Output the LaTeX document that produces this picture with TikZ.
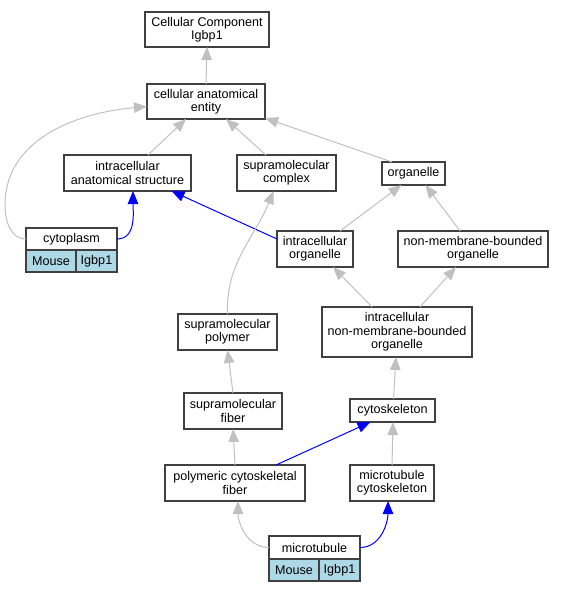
\documentclass[tikz,border=0pt]{standalone}
\usepackage{fontspec}
\setmainfont{Liberation Sans}
\usetikzlibrary{arrows.meta,calc}
\definecolor{isagray}{RGB}{192,192,192}
\definecolor{taxblue}{RGB}{173,216,230}
\tikzset{
  term/.style={draw=black!75,line width=1.1pt,fill=white,align=center,inner sep=0pt,outer sep=0pt,
    font=\fontsize{12.6}{13.3}\selectfont},
  taxcell/.style={term,fill=taxblue,minimum height=22pt,anchor=north west},
  isa/.style={draw=isagray,line width=1pt,-{Triangle[length=13pt,width=10.5pt]}},
  partof/.style={draw=blue,line width=1pt,-{Triangle[length=13pt,width=10.5pt]}}
}
\begin{document}
\begin{tikzpicture}[x=1pt,y=-1pt]
    \useasboundingbox (0,0) rectangle (564,592);
    \node[term,minimum width=124pt,minimum height=35pt] (cc) at (207,29.5) {Cellular Component\\Igbp1};
    \node[term,minimum width=118pt,minimum height=35pt] (cae) at (206,101.5) {cellular anatomical\\entity};
    \node[term,minimum width=127pt,minimum height=36pt] (ias) at (127.5,173) {intracellular\\anatomical structure};
    \node[term,minimum width=99pt,minimum height=36pt] (smc) at (286.5,173) {supramolecular\\complex};
    \node[term,minimum width=63pt,minimum height=23pt] (org) at (413.5,173.5) {organelle};
    \node[term,minimum width=91pt,minimum height=22pt] (cyto) at (71.5,239) {cytoplasm};
    \node[taxcell,minimum width=50pt] (cytomouse) at (cyto.south west) {Mouse};
    \node[taxcell,minimum width=41pt] (cytoigbp) at (cytomouse.north east) {Igbp1};
    \node[term,minimum width=76pt,minimum height=36pt] (iorg) at (315,249) {intracellular\\organelle};
    \node[term,minimum width=150pt,minimum height=36pt] (nmbo) at (473,249) {non-membrane-bounded\\organelle};
    \node[term,minimum width=99pt,minimum height=36pt] (smp) at (227.5,332) {supramolecular\\polymer};
    \node[term,minimum width=150pt,minimum height=50pt] (inmbo) at (397,332) {intracellular\\non-membrane-bounded\\organelle};
    \node[term,minimum width=98pt,minimum height=36pt] (smf) at (233,411) {supramolecular\\fiber};
    \node[term,minimum width=85pt,minimum height=23pt] (csk) at (392.5,410.5) {cytoskeleton};
    \node[term,minimum width=140pt,minimum height=36pt] (pcf) at (235,483) {polymeric cytoskeletal\\fiber};
    \node[term,minimum width=84pt,minimum height=36pt] (mtc) at (392,483) {microtubule\\cytoskeleton};
    \node[term,minimum width=91pt,minimum height=23pt] (mt) at (314.5,547.5) {microtubule};
    \node[taxcell,minimum width=50pt] (mtmouse) at (mt.south west) {Mouse};
    \node[taxcell,minimum width=41pt] (mtigbp) at (mtmouse.north east) {Igbp1};
    \draw[isa] (cae.north) -- (cc.south);
    \draw[isa] ($(ias.north)+(20.5,0)$) -- ($(cae.south)+(-20,0)$);
    \draw[isa] ($(smc.north)+(-20.5,0)$) -- ($(cae.south)+(20,0)$);
    \draw[isa] ($(org.north)+(-21.5,0)$) -- ($(cae.south east)+(0,-1)$);
    \draw[isa] (cyto.west) to[out=180,in=270] (5,205) to[out=90,in=185] ($(cae.west)+(0,5)$);
    \draw[partof] (cyto.east) to[out=0,in=270] ($(ias.south)+(5.5,0)$);
    \draw[partof] ($(iorg.west)+(0,-10)$) -- ($(ias.south)+(44,0)$);
    \draw[isa] ($(iorg.north)+(25,0)$) -- ($(org.south)+(-12,0)$);
    \draw[isa] ($(nmbo.north)+(-13,0)$) -- ($(org.south)+(12,0)$);
    \draw[isa] ($(inmbo.north)+(-25,0)$) -- ($(iorg.south)+(18,0)$);
    \draw[isa] ($(inmbo.north)+(23,0)$) -- ($(nmbo.south)+(-17,0)$);
    \draw[isa] (smp.north) to[out=92,in=-112] ($(smc.south)+(-13,0)$);
    \draw[isa] (smf.north) -- (smp.south);
    \draw[isa] ($(csk.north)+(1,0)$) -- ($(inmbo.south)+(-1,0)$);
    \draw[isa] (pcf.north) -- (smf.south);
    \draw[partof] ($(pcf.north)+(41,0)$) -- ($(csk.south)+(-22,0)$);
    \draw[isa] (mtc.north) -- ($(csk.south)+(0.5,0)$);
    \draw[isa] (mt.west) to[out=180,in=270] ($(pcf.south)+(3,0)$);
    \draw[partof] (mt.east) to[out=0,in=270] ($(mtc.south)+(-4,0)$);
\end{tikzpicture}
\end{document}
